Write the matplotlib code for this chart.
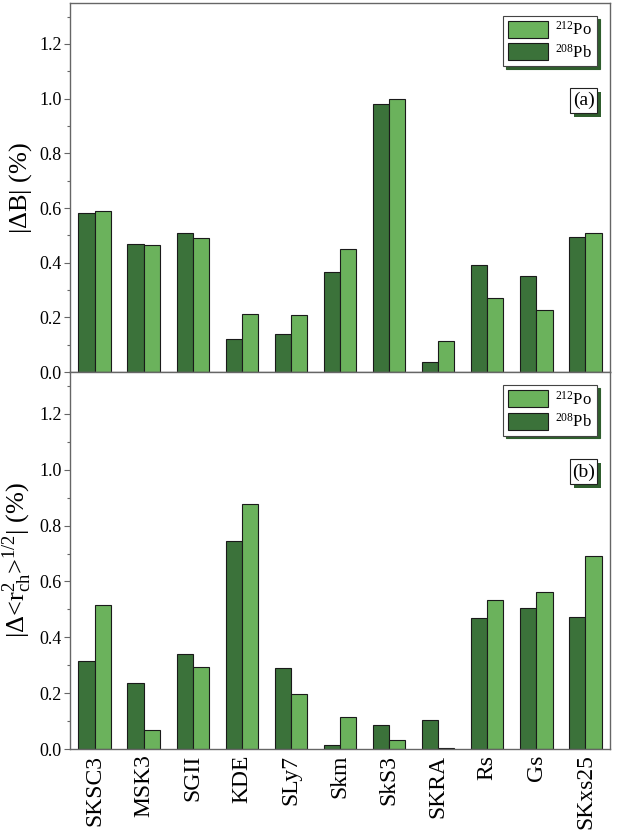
import matplotlib
matplotlib.use("Agg")
import matplotlib.pyplot as plt
from matplotlib.patches import Rectangle
import numpy as np

plt.rcParams['font.family'] = ['Liberation Serif', 'DejaVu Serif']
plt.rcParams['mathtext.fontset'] = 'custom'
plt.rcParams['mathtext.rm'] = 'Liberation Serif'
plt.rcParams['mathtext.it'] = 'Liberation Serif:italic'
plt.rcParams['mathtext.bf'] = 'Liberation Serif:bold'

categories = ['SKSC3', 'MSK3', 'SGII', 'KDE', 'SLy7', 'Skm', 'SkS3', 'SKRA', 'Rs', 'Gs', 'SKxs25']
dB_pb = [0.580, 0.467, 0.510, 0.120, 0.140, 0.365, 0.980, 0.035, 0.390, 0.352, 0.495]
dB_po = [0.590, 0.465, 0.490, 0.213, 0.210, 0.450, 1.000, 0.115, 0.270, 0.228, 0.510]
dR_pb = [0.315, 0.237, 0.340, 0.745, 0.290, 0.015, 0.085, 0.103, 0.470, 0.505, 0.472]
dR_po = [0.515, 0.067, 0.295, 0.878, 0.197, 0.115, 0.033, 0.005, 0.533, 0.563, 0.690]
yticks = [0.0, 0.2, 0.4, 0.6, 0.8, 1.0, 1.2]

dark = '#3b723a'
light = '#6bb25c'
shadow = '#2f5e2d'
spine_c = '#666666'

fig = plt.figure(figsize=(6.18, 8.30), dpi=100)
ax1 = fig.add_axes([70/618, 1-372/830, 540/618, 369/830])
ax2 = fig.add_axes([70/618, 1-749/830, 540/618, 377/830])

x = np.arange(len(categories))
w = 0.33

def panel(ax, pb, po, ylabel, tag):
    ax.bar(x - w/2, pb, w, color=dark, edgecolor='#1a1a1a', linewidth=0.8, label=r'$^{208}$Pb', zorder=2)
    ax.bar(x + w/2, po, w, color=light, edgecolor='#1a1a1a', linewidth=0.8, label=r'$^{212}$Po', zorder=2)
    ax.set_xlim(-0.5, 10.5)
    ax.set_ylim(-0.0, 1.35)
    ax.set_yticks(yticks)
    ax.set_yticklabels([f'{t:.1f}' for t in yticks])
    ax.set_yticks(np.arange(0.1, 1.35, 0.2), minor=True)
    ax.tick_params(axis='y', which='major', direction='out', length=4, width=0.8, color=spine_c,
                   labelsize=13, pad=2)
    ax.tick_params(axis='y', which='minor', direction='out', length=2.5, width=0.8, color=spine_c)
    ax.tick_params(axis='x', which='both', length=0)
    for s in ax.spines.values():
        s.set_color(spine_c)
        s.set_linewidth(1.0)
    ax.set_ylabel(ylabel, fontsize=19, labelpad=4)
    h, l = ax.get_legend_handles_labels()
    leg = ax.legend(h[::-1], l[::-1], loc='upper right', bbox_to_anchor=(0.976, 0.965),
                    fontsize=12, handlelength=2.4, handleheight=1.2, handletextpad=0.4,
                    borderpad=0.3, labelspacing=0.25, fancybox=False,
                    shadow={'color': shadow, 'alpha': 1.0}, framealpha=1.0,
                    edgecolor='#444444', borderaxespad=0.0)
    leg.get_frame().set_linewidth(0.8)
    # tag box with shadow
    bx0, bx1 = 0.926, 0.976
    h_fr = 25 / (ax.get_position().height * 830)
    by0 = 0.735 - h_fr / 2
    dx = 4 / 540
    dy = 4 / (ax.get_position().height * 830)
    ax.add_patch(Rectangle((bx0 + dx, by0 - dy), bx1 - bx0, h_fr, transform=ax.transAxes,
                           facecolor=shadow, edgecolor=shadow, linewidth=0, zorder=5))
    ax.add_patch(Rectangle((bx0, by0), bx1 - bx0, h_fr, transform=ax.transAxes,
                           facecolor='white', edgecolor='#222222', linewidth=0.8, zorder=6))
    ax.text((bx0 + bx1) / 2, 0.735, tag, transform=ax.transAxes, ha='center', va='center',
            fontsize=14, zorder=7)

panel(ax1, dB_pb, dB_po, r'$|\Delta$B$|$ (%)', '(a)')
panel(ax2, dR_pb, dR_po, r'$|\Delta$<r$^2_{\rm ch}$>$^{1/2}|$ (%)', '(b)')

ax1.set_xticks(x)
ax1.set_xticklabels([])
ax2.set_xticks(x)
ax2.set_xticklabels(categories, rotation=90, fontsize=17)
ax2.tick_params(axis='x', pad=4)

fig.savefig('out.png', dpi=100)
